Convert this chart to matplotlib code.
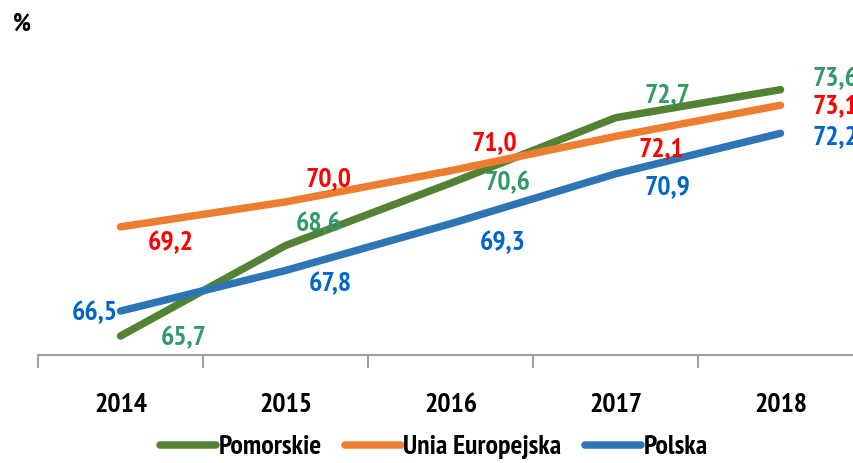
import matplotlib.pyplot as plt

FONT = ['PT Sans Narrow', 'DejaVu Sans']
plt.rcParams['font.family'] = FONT
plt.rcParams['font.weight'] = 'bold'

years = ["2014", "2015", "2016", "2017", "2018"]
pomorskie = [65.7, 68.6, 70.6, 72.7, 73.6]
unia = [69.2, 70.0, 71.0, 72.1, 73.1]
polska = [66.5, 67.8, 69.3, 70.9, 72.2]

# label offsets in pixels (dx, dy) from each point, y up
off_pom = [(63, -2), (33, 21), (57, 0), (52, 23), (32, 10)]
off_ue = [(50, -16), (43, 23), (44, 28), (46, -13), (32, -1)]
off_pl = [(-26, -2), (45, -14), (52, -19), (52, -13), (32, -4)]

fig = plt.figure(figsize=(8.54, 4.63), dpi=100)
ax = fig.add_axes([38 / 854, 1 - 355 / 463, 825 / 854, (355 - 46) / 463])

x = list(range(len(years)))
series = [
    ("Pomorskie", pomorskie, "#548235", "#339966", off_pom),
    ("Unia Europejska", unia, "#ED7D31", "#FF0000", off_ue),
    ("Polska", polska, "#2E75B6", "#0066CC", off_pl),
]
for name, vals, col, lcol, offs in series:
    ax.plot(x, vals, color=col, lw=5.4, solid_capstyle='round',
            solid_joinstyle='round', label=name)
    for i, v in enumerate(vals):
        ha = 'left' if i == len(vals) - 1 else 'center'
        ax.annotate(f"{v:.1f}".replace(".", ","), (i, v), xytext=offs[i],
                    textcoords='offset pixels', ha=ha, va='center',
                    color=lcol, fontsize=20, fontweight='bold',
                    annotation_clip=False)

ax.set_xlim(-0.5, 4.5)
ax.set_ylim(65.09, 75.0)
ax.set_yticks([])
for s in ['top', 'right', 'left']:
    ax.spines[s].set_visible(False)
ax.spines['bottom'].set_color('#A0A0A0')
ax.spines['bottom'].set_linewidth(1.5)
ax.set_xticks([-0.5, 0.5, 1.5, 2.5, 3.5, 4.5])
ax.set_xticklabels([])
ax.tick_params(axis='x', length=9.5, color='#A0A0A0', width=1.5)
for i, y in enumerate(years):
    ax.annotate(y, (i, 0), xycoords=('data', 'axes fraction'), xytext=(0, -50),
                textcoords='offset pixels', ha='center', va='center',
                fontsize=20, fontweight='bold', annotation_clip=False)

fig.text(22 / 854, 1 - 24 / 463, "%", fontsize=18, fontweight='bold',
         ha='center', va='center')

fig.legend(loc='center', bbox_to_anchor=(434 / 854, 1 - 447 / 463), ncol=3,
           frameon=False, fontsize=20, handlelength=2.0, handletextpad=0.1,
           columnspacing=0.85, borderpad=0, borderaxespad=0)

fig.savefig("out.png", dpi=100)
